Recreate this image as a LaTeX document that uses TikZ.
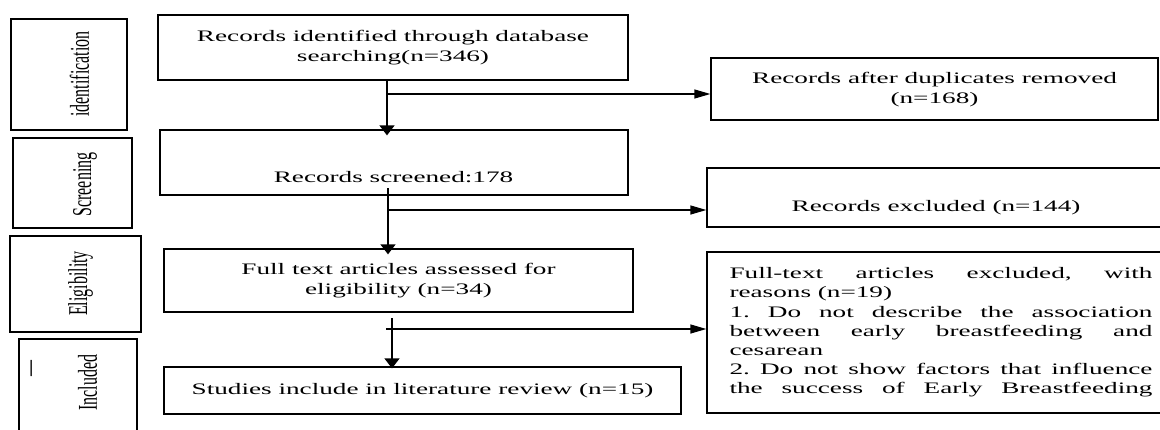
\documentclass[tikz,border=0pt]{standalone}
\usepackage{fontspec}
\setmainfont{Liberation Serif}
\usepackage{graphicx}
\usetikzlibrary{arrows.meta}
\newcommand{\wide}[1]{\scalebox{1.7}[1]{#1}}
\frenchspacing
\tikzset{
  box/.style={draw,line width=1.3pt,inner sep=0pt,align=center},
  txt/.style={inner sep=0pt},
  varrow/.style={line width=1.4pt,-{Triangle[length=10pt,width=15pt]}},
  harrow/.style={line width=1.3pt,-{Triangle[length=16pt,width=9pt]}},
}

\begin{document}
\begin{tikzpicture}[x=1pt,y=-1pt,font=\fontsize{16}{20}\selectfont]
  \useasboundingbox (0,0) rectangle (1160,429);
  % stages on the left
  \node[box,minimum width=116,minimum height=111] (ident) at (69,74.5) {};
  \node[box,minimum width=119,minimum height=90] (screen) at (72.5,183) {};
  \node[box,minimum width=131,minimum height=96] (elig) at (75.5,284) {};
  \node[box,minimum width=118,minimum height=104] (incl) at (78,391) {};
  \node[txt] (identlbl) at (79.5,74) {\wide{\rotatebox{90}{identification}}};
  \node[txt] (screenlbl) at (85,184.5) {\wide{\rotatebox{90}{Screening}}};
  \node[txt] (eliglbl) at (80.5,283.5) {\wide{\rotatebox{90}{Eligibility}}};
  \node[txt] (incllbl) at (87.5,382.5) {\wide{\rotatebox{90}{Included}}};
  \node[txt] (incldash) at (34,368.5) {\wide{\rotatebox{90}{—}}};
  % main flow
  \node[box,minimum width=470,minimum height=65] (recid) at (393,47.5)
    {\wide{\begin{tabular}{@{}c@{}}Records identified through database\\searching(n=346)\end{tabular}}};
  \node[box,minimum width=468,minimum height=65] (recscr) at (394,162.5) {};
  \node[txt] (recscrtxt) at (393.5,177) {\wide{Records screened:178}};
  \node[box,minimum width=469,minimum height=63] (fulltxt) at (398.5,280.5)
    {\wide{\begin{tabular}{@{}c@{}}Full text articles assessed for\\eligibility (n=34)\end{tabular}}};
  \node[box,minimum width=517,minimum height=47] (studies) at (422.5,390.5)
    {\wide{Studies include in literature review (n=15)}};
  % excluded records on the right
  \node[box,minimum width=447,minimum height=62] (dupl) at (934.5,89)
    {\wide{\begin{tabular}{@{}c@{}}Records after duplicates removed\\(n=168)\end{tabular}}};
  \node[box,minimum width=468,minimum height=59] (excl) at (941,197.5) {};
  \node[txt] (excltxt) at (936,208) {\wide{Records excluded (n=144)}};
  \node[box,minimum width=468,minimum height=161] (reasons) at (941,332.5)
    {\wide{\parbox{248.8pt}{\fontsize{16}{19.2}\selectfont
      \makebox[\linewidth][s]{Full-text articles excluded, with}\\
      reasons (n=19)\\
      \makebox[\linewidth][s]{1. Do not describe the association}\\
      \makebox[\linewidth][s]{between early breastfeeding and}\\
      cesarean\\
      \makebox[\linewidth][s]{2. Do not show factors that influence}\\
      \makebox[\linewidth][s]{the success of Early Breastfeeding}}}};
  % connectors
  \coordinate (j1) at (387,94);
  \coordinate (s2) at (388,188);
  \coordinate (j2) at (388,210);
  \coordinate (s3) at (392,318);
  \coordinate (j3) at (386,329);
  \draw[varrow,shorten >=-6pt] (recid.south -| j1) -- (recscr.north -| j1);
  \draw[harrow] (j1) -- (j1 -| dupl.west);
  \draw[varrow,shorten >=-6pt] (s2) -- (s2 |- fulltxt.north);
  \draw[harrow] (j2) -- (j2 -| excl.west);
  \draw[varrow,shorten >=-2pt] (s3) -- (s3 |- studies.north);
  \draw[harrow] (j3) -- (j3 -| reasons.west);
\end{tikzpicture}
\end{document}
